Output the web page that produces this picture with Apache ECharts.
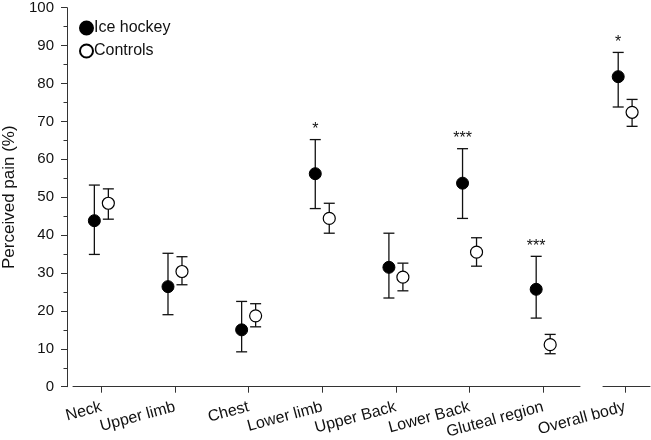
<!DOCTYPE html>
<html>
<head>
<meta charset="utf-8">
<script src="https://cdn.jsdelivr.net/npm/echarts@6/dist/echarts.min.js"></script>
<style>
  html, body { margin: 0; padding: 0; background: #fff; }
  #chart { width: 651px; height: 440px; }
</style>
</head>
<body>
<div id="chart"></div>
<script>
// body regions, the last one sits in its own panel
var categories = ['Neck', 'Upper limb', 'Chest', 'Lower limb', 'Upper Back', 'Lower Back', 'Gluteal region', 'Overall body']
var hockeyMean = [43.8, 26.4, 15.0, 56.2, 31.5, 53.7, 25.7, 81.8]
var hockeyLow  = [34.9, 19.0, 9.2, 47.0, 23.4, 44.4, 18.1, 73.8]
var hockeyHigh = [53.2, 35.2, 22.5, 65.2, 40.5, 62.8, 34.4, 88.2]
var ctrlMean = [48.4, 30.4, 18.7, 44.4, 28.9, 35.5, 11.1, 72.4]
var ctrlLow  = [44.2, 26.9, 15.8, 40.5, 25.3, 31.8, 8.7, 68.7]
var ctrlHigh = [52.2, 34.3, 21.9, 48.4, 32.6, 39.3, 13.8, 75.8]
var signif = ['', '', '', '*', '', '***', '***', '*']
var yTicks = [0, 10, 20, 30, 40, 50, 60, 70, 80, 90, 100]

var shift = 0.095
var font = 'Liberation Sans, Arial, sans-serif'
var axisColor = '#333'

// split points into the two panels
function pts (vals, dx, panel) {
  var out = []
  for (var i = 0; i < vals.length; i++) {
    var inLast = i === vals.length - 1
    if ((panel === 1) === inLast) out.push([i + 1 + dx, vals[i]])
  }
  return out
}
function errs (lo, hi, dx, panel, sig) {
  var out = []
  for (var i = 0; i < lo.length; i++) {
    var inLast = i === lo.length - 1
    if ((panel === 1) === inLast) out.push([i + 1 + dx, lo[i], hi[i], sig ? sig[i] : ''])
  }
  return out
}

function errRender (params, api) {
  var x = api.value(0)
  var top = api.coord([x, api.value(2)])
  var bot = api.coord([x, api.value(1)])
  var w = 5.5
  var st = { stroke: '#111', lineWidth: 1.3 }
  var kids = [
    { type: 'line', shape: { x1: top[0], y1: top[1], x2: bot[0], y2: bot[1] }, style: st },
    { type: 'line', shape: { x1: top[0] - w, y1: top[1], x2: top[0] + w, y2: top[1] }, style: st },
    { type: 'line', shape: { x1: bot[0] - w, y1: bot[1], x2: bot[0] + w, y2: bot[1] }, style: st }
  ]
  var s = api.value(3)
  if (s) {
    kids.push({
      type: 'text',
      style: { text: s, x: top[0], y: top[1] - 2, align: 'center', verticalAlign: 'bottom', fontSize: 16, fontFamily: font, fill: '#111' }
    })
  }
  return { type: 'group', children: kids }
}

function xAxisCfg (idx, min, max, ticks) {
  return {
    type: 'value', gridIndex: idx, min: min, max: max, offset: 6,
    axisLine: { lineStyle: { color: axisColor, width: 1 } },
    axisTick: { customValues: ticks, length: 6, lineStyle: { color: axisColor } },
    axisLabel: {
      customValues: ticks, rotate: 15, margin: 14, fontSize: 16, fontFamily: font, color: '#111',
      formatter: function (v) { return categories[Math.round(v) - 1] }
    },
    splitLine: { show: false }
  }
}

var chart = echarts.init(document.getElementById('chart'))
var option = {
  animation: false,
  legend: {
    orient: 'vertical', left: 74, top: 15,
    itemWidth: 13, itemHeight: 13, itemGap: 7,
    textStyle: { fontSize: 16, fontFamily: font, color: '#111', padding: [0, 0, 0, -4] },
    data: ['Ice hockey', 'Controls']
  },
  grid: [
    { left: 73, right: 71, top: 7.7, bottom: 53.3, outerBoundsMode: 'none' },
    { left: 603, right: 1, top: 7.7, bottom: 53.3, outerBoundsMode: 'none' }
  ],
  xAxis: [
    xAxisCfg(0, 0.615, 7.5, [1, 2, 3, 4, 5, 6, 7]),
    xAxisCfg(1, 7.697, 8.34, [8])
  ],
  yAxis: [
    {
      type: 'value', gridIndex: 0, min: 0, max: 100, interval: 10, offset: 6,
      name: 'Perceived pain (%)', nameLocation: 'middle', nameGap: 49,
      nameTextStyle: { fontSize: 17, fontFamily: font, color: '#111' },
      axisLine: { show: true, lineStyle: { color: axisColor } },
      axisTick: { show: true, length: 6, lineStyle: { color: axisColor } },
      minorTick: { show: true, splitNumber: 2, length: 3.5, lineStyle: { color: axisColor } },
      axisLabel: { fontSize: 15, margin: 13, fontFamily: font, color: '#111', customValues: yTicks },
      splitLine: { show: false }
    },
    { type: 'value', gridIndex: 1, min: 0, max: 100, show: false }
  ],
  series: [
    { type: 'custom', xAxisIndex: 0, yAxisIndex: 0, renderItem: errRender, data: errs(hockeyLow, hockeyHigh, -shift, 0, signif), z: 1 },
    { type: 'custom', xAxisIndex: 0, yAxisIndex: 0, renderItem: errRender, data: errs(ctrlLow, ctrlHigh, shift, 0), z: 1 },
    { type: 'custom', xAxisIndex: 1, yAxisIndex: 1, renderItem: errRender, data: errs(hockeyLow, hockeyHigh, -shift, 1, signif), z: 1 },
    { type: 'custom', xAxisIndex: 1, yAxisIndex: 1, renderItem: errRender, data: errs(ctrlLow, ctrlHigh, shift, 1), z: 1 },
    {
      name: 'Ice hockey', type: 'scatter', xAxisIndex: 0, yAxisIndex: 0, symbol: 'circle', symbolSize: 12, z: 3,
      itemStyle: { color: '#000', borderColor: '#000', borderWidth: 1, opacity: 1 },
      data: pts(hockeyMean, -shift, 0)
    },
    {
      name: 'Controls', type: 'scatter', xAxisIndex: 0, yAxisIndex: 0, symbol: 'circle', symbolSize: 12, z: 3,
      itemStyle: { color: '#fff', borderColor: '#000', borderWidth: 1.2, opacity: 1 },
      data: pts(ctrlMean, shift, 0)
    },
    {
      name: 'Ice hockey', type: 'scatter', xAxisIndex: 1, yAxisIndex: 1, symbol: 'circle', symbolSize: 12, z: 3,
      itemStyle: { color: '#000', borderColor: '#000', borderWidth: 1, opacity: 1 },
      data: pts(hockeyMean, -shift, 1)
    },
    {
      name: 'Controls', type: 'scatter', xAxisIndex: 1, yAxisIndex: 1, symbol: 'circle', symbolSize: 12, z: 3,
      itemStyle: { color: '#fff', borderColor: '#000', borderWidth: 1.2, opacity: 1 },
      data: pts(ctrlMean, shift, 1)
    }
  ]
}
chart.setOption(option)
</script>
</body>
</html>
